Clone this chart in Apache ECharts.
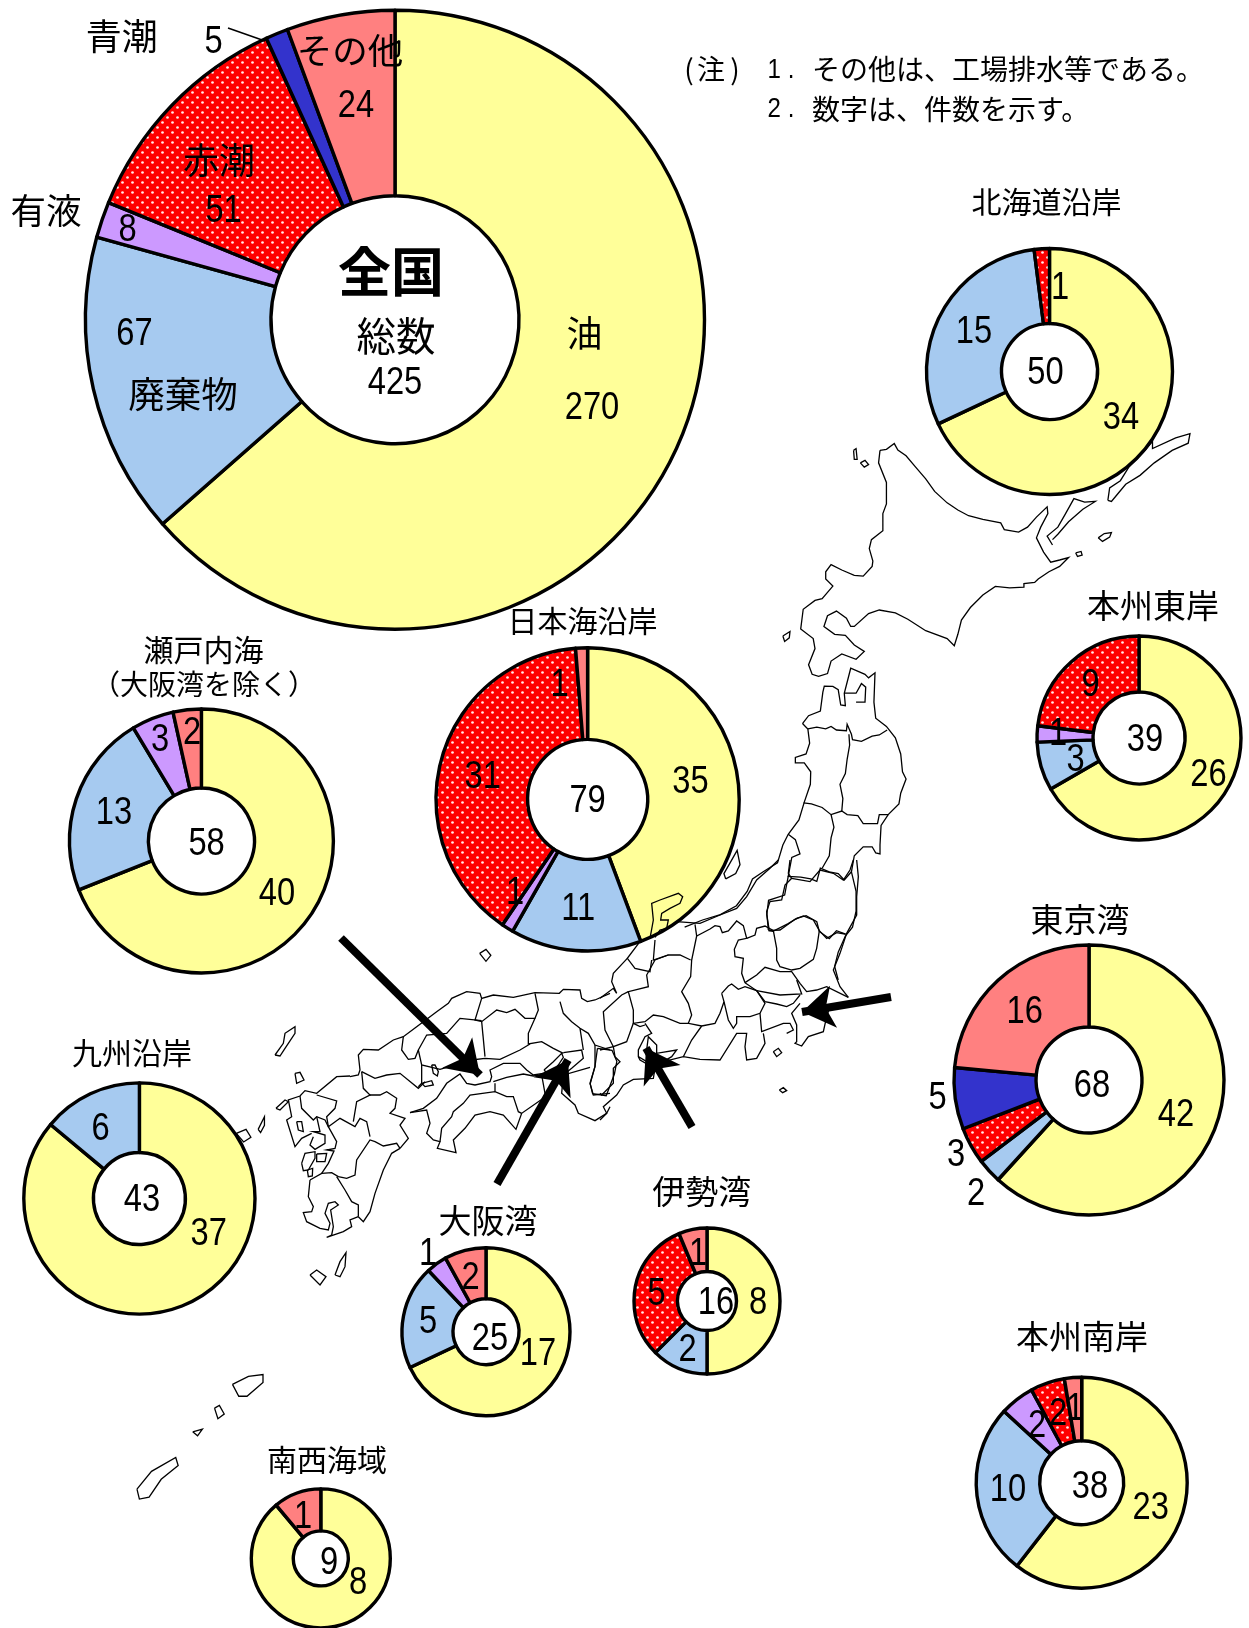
<!DOCTYPE html>
<html>
<head>
<meta charset="utf-8">
<title>全国 海洋汚染</title>
<script src="https://cdn.jsdelivr.net/npm/echarts@6/dist/echarts.min.js"></script>
<style>
html, body { margin: 0; padding: 0; background: #fff; }
#chart { width: 1249px; height: 1628px; }
</style>
</head>
<body>
<div id="chart"></div>
<script>
// slice order follows the legend of the big donut
var categories = ['油', '廃棄物', '有液', '赤潮', '青潮', 'その他'];
var zenkoku  = [270, 67, 8, 51, 5, 24];
var hokkaido = [34, 15, 0, 1, 0, 0];
var tohoku   = [26, 3, 1, 9, 0, 0];
var nihonkai = [35, 11, 1, 31, 0, 1];
var setonai  = [40, 13, 3, 0, 0, 2];
var tokyo    = [42, 2, 0, 3, 5, 16];
var kyushu   = [37, 6, 0, 0, 0, 0];
var osaka    = [17, 5, 1, 0, 0, 2];
var ise      = [8, 2, 0, 5, 0, 1];
var nangan   = [23, 10, 2, 2, 0, 1];
var nansei   = [8, 0, 0, 0, 0, 1];

var sliceColors = ['#FFFF99', '#A6CAF0', '#CC99FF', 'dots', '#3333CC', '#FF8080'];

// donut placement: centre x, centre y, hole radius, outer radius
var donuts = [
  { name: '全国', values: zenkoku, c: [395, 319.7], r: [124, 309.5],
    num: [[592, 407], [134.5, 332.6], [127.6, 228.6], [223.6, 209.4], [213.5, 40.8], [356, 105]], total: [395, 381.6] },
  { name: '北海道沿岸', values: hokkaido, c: [1049.5, 371.5], r: [48, 123], t: [1046.5, 201.4, 30],
    num: [[1121, 417], [974, 331], null, [1060, 286.5]], total: [1045.5, 372] },
  { name: '本州東岸', values: tohoku, c: [1139, 738], r: [46, 102], t: [1153, 605, 33],
    num: [[1208.5, 773.5], [1075.7, 758.6], [1058, 732.5], [1090.7, 683.6]], total: [1145, 739] },
  { name: '日本海沿岸', values: nihonkai, c: [587.6, 799.4], r: [60, 151.6], t: [582.5, 621, 30],
    num: [[690.4, 780.7], [578.3, 907.4], [515, 892], [482.8, 775.5], null, [559.6, 684]], total: [587.6, 799.4] },
  { name: '瀬戸内海', values: setonai, c: [201.4, 841], r: [53, 132], t: [203.5, 650, 30],
    num: [[277, 893], [114, 812], [160, 739], null, null, [192, 732]], total: [206.6, 843] },
  { name: '東京湾', values: tokyo, c: [1089, 1080], r: [53, 135], t: [1080, 919, 33],
    num: [[1176, 1114], [976, 1193], null, [956, 1153.4], [937.5, 1096.4], [1024.7, 1011]], total: [1092, 1085] },
  { name: '九州沿岸', values: kyushu, c: [139.4, 1198.5], r: [46, 115.6], t: [132, 1052.7, 30],
    num: [[208.7, 1232.4], [100.7, 1127.5]], total: [142, 1199] },
  { name: '大阪湾', values: osaka, c: [486, 1331.7], r: [33, 84], t: [488, 1220.5, 33],
    num: [[538, 1353], [428, 1321], [428, 1253], null, null, [470.7, 1276.7]], total: [490, 1337.7] },
  { name: '伊勢湾', values: ise, c: [707, 1301], r: [29.5, 73], t: [701.7, 1191.7, 33],
    num: [[758, 1301.7], [687.7, 1349], null, [656.7, 1292.7], null, [698, 1253]], total: [716, 1301.7] },
  { name: '本州南岸', values: nangan, c: [1081.7, 1482.7], r: [42, 105.5], t: [1082, 1336, 33],
    num: [[1150.7, 1506.7], [1008, 1489], [1037, 1425], [1058, 1413], null, [1075, 1408]], total: [1090, 1485.7] },
  { name: '南西海域', values: nansei, c: [320.8, 1558.4], r: [27.5, 69.5], t: [327, 1459.7, 30],
    num: [[358, 1582], null, null, null, null, [303, 1515.8]], total: [329, 1561.4] }
];

// name labels of the big donut: x, y, size
var catLabelPos = [[584.5, 333.5, 36], [183, 394, 36.5], [46, 211, 35.5], [219, 160, 36], [121.7, 36, 36], [350, 51, 35.5]];

var arrows = [
  [[341, 938], [480, 1075]],
  [[497, 1184], [568, 1060]],
  [[692, 1127], [646, 1048]],
  [[891, 997], [802, 1012]]
];

// coast and prefecture lines, traced in crops of the picture (ox, oy = crop origin, sx, sy = crop scale)
var mapFrames = [
  { ox: 640, oy: 420, sx: 2.8, sy: 2.8, paths: [
    [672,85,690,82,712,66,722,84,745,100,770,130,800,165,825,200,860,232,890,252,920,268,960,278,1010,288,1020,307,1060,314,1085,300,1110,272,1140,243,1142,262,1122,300,1110,330,1130,370,1150,398,1175,392,1200,385,1175,410,1145,425,1115,445,1105,455,1075,458,1075,468,1035,470,995,466,960,490,925,525,900,560,890,600,880,632,860,612,800,590,750,558,715,540,670,532,640,542,600,578,590,578,578,555,550,535,525,548,515,578,545,600,575,603,600,630,628,648,605,670,565,655,535,675,525,710,500,718,482,712,472,685,490,640,485,612,450,585,457,530,490,505,510,500,540,465,520,445,520,425,535,405,565,420,600,435,625,437,650,410,652,395,642,360,648,335,680,310,680,262,690,235,690,175,668,120,672,85],
    [1155,350,1140,325,1170,300,1190,265,1215,220,1245,230,1275,228,1240,250,1200,285,1170,320,1155,335],
    [1310,225,1315,190,1345,170,1370,130,1410,90,1435,60,1435,80,1500,50,1540,38,1535,65,1490,85,1440,120,1400,155,1360,180,1335,210,1320,228,1310,225],
    [1283,330,1300,318,1320,315,1315,328,1295,340,1283,330],
    [1220,372,1235,368,1238,378,1225,382,1220,372],
    [598,85,605,80,608,110,600,110,598,85],
    [617,120,630,113,640,125,628,132,617,120],
    [400,605,420,592,418,610,405,620,400,605],
    [455,850,472,828,505,815,512,762,516,745,540,746,555,755,562,798,575,800,572,765,590,695,630,712,640,722,658,708,655,790,660,835,690,858,715,890,730,935,735,985,745,1005,730,1045,725,1075,695,1105,675,1135,672,1190,672,1215,660,1212,650,1195,625,1195,600,1220,592,1265,605,1320,605,1375,595,1420,575,1445,555,1490,545,1530,555,1568],
    [572,765,605,765,620,738,632,748,630,790,605,790],
    [455,850,470,865,475,905,465,935,435,945,435,960,460,960,478,985,477,1020,460,1070,445,1120,415,1160,400,1190,385,1240,345,1265,315,1285,300,1320,270,1360,225,1385,175,1400,125,1420],
    [470,865,495,860,520,865,535,858,550,868,578,870,580,852,592,880,595,895,620,900,650,885,670,882,692,868],
    [585,880,587,910,580,950,575,990,560,1020,568,1060,565,1095],
    [458,1072,480,1075,510,1085,535,1105,565,1095,580,1105,610,1108,625,1130,665,1130,670,1105,695,1105],
    [535,1105,543,1140,535,1170,530,1220,510,1255],
    [415,1160,435,1175,448,1215,425,1225,415,1278,450,1280,478,1285,495,1292,505,1255,530,1265,555,1270,572,1288,592,1265],
    [415,1278,405,1330,360,1345,355,1385,362,1430,372,1432,415,1410,440,1395,465,1388,495,1405,502,1432,530,1452,550,1430,578,1440],
    [240,1285,235,1270,255,1235,272,1205,280,1245,268,1270,240,1285]
  ] },
  { ox: 600, oy: 860, sx: 3, sy: 3, paths: [
    [150,235,160,180,155,130,180,120,235,100,248,110,240,130,210,145,185,160,182,180,205,180,200,205,180,210,165,232],
    [230,185,300,190,360,165,410,145,440,110,470,60,510,25,535,0],
    [285,193,290,228,330,207,345,197,360,200,367,218,385,213,410,183,430,197,440,235,415,240,403,268,405,290,430,295,425,340,435,368],
    [440,235,465,225,470,205,495,198,520,212],
    [505,212,540,210,585,178,610,168,640,180,658,212,680,235,710,218,735,222],
    [505,210,500,155,510,125,545,120,555,75,575,55,565,40,570,0],
    [575,55,630,65,660,30,700,40,730,60,750,30,760,0],
    [770,0,775,50,770,110,770,165,740,220,720,280,700,330,720,380,745,412],
    [520,212,530,265,530,300,540,320,575,330,600,325,640,298,650,265,658,212],
    [435,368,470,345,495,322,540,335,575,335,600,370,620,395,650,390,680,380,745,412],
    [435,368,470,392,540,405,605,402,590,360],
    [470,392,495,425,530,432,560,440,580,430,600,405],
    [365,400,385,378,395,372,415,388,435,380,470,392,495,430,480,460,450,470,410,470,410,490,400,505,385,480,372,425,365,400],
    [480,460,485,515,550,490,570,490,580,510,560,520],
    [600,430,575,460,590,495,590,545,585,550,605,558,625,530,670,515,680,470,690,440],
    [490,520,495,550,470,595,440,600,435,560,440,520,410,520,360,600,300,598,250,590,190,605],
    [305,498,275,540,250,590],
    [290,228,275,300,272,350,245,395,265,430,275,465,265,490,305,498,345,490,360,460,372,425],
    [205,285,165,300,140,345,145,380,85,395,100,450,100,490,135,485,160,465,190,470,240,490,265,490],
    [165,240,160,300,205,285,240,285,272,300],
    [122,242,82,295,105,325,150,335,155,300],
    [82,295,40,340,35,365,50,400,40,385,0,415],
    [85,395,65,405,10,455,15,510,40,560,80,545,100,490],
    [135,490,155,520,135,530,115,570,115,590,140,605,175,600,140,570,145,530,170,555,170,580,230,570,215,590,190,605],
    [100,490,120,500,135,495],
    [115,590,120,600,165,625,160,655,100,658,70,675,50,705,10,740,20,760,0,780],
    [40,560,0,570],
    [40,560,45,590,60,605,40,625,40,670,5,705,0,700],
    [520,575,535,565,545,578,530,590,520,575],
    [538,690,550,683,560,692,548,698,538,690]
  ] },
  { ox: 350, oy: 970, sx: 3, sy: 3, paths: [
    [780,70,735,90,712,95,695,85,690,60,640,58,628,70,555,68,490,82,430,75,395,85,390,70,350,65,305,85,295,100,260,125,200,170,160,200,130,210,85,240,40,238,25,255,30,300,25,315,0,320],
    [160,200,155,240,175,268,195,265,205,240,230,195,290,190,330,145,395,152],
    [395,85,375,150,395,155,440,120,470,128,495,118,525,145,555,145,565,120,555,70],
    [395,155,405,260],
    [555,145,535,190,535,222,575,215,610,235,640,250],
    [205,240,215,285,270,298,340,278,365,270,405,265,450,268,510,240,540,222],
    [215,285,215,340,205,350],
    [245,285,255,285,265,305,262,318,250,310,245,285],
    [215,340,245,332,250,345,225,350,215,340],
    [180,428,220,415,260,385,290,340,330,312,350,340,375,345,420,335,425,320,420,300,460,280,510,280,530,300,550,315,580,310],
    [430,335,470,322,520,312,550,318,575,315,585,370,580,385],
    [180,428,230,420,240,460,230,490,250,510,270,515,262,535,318,548,310,510,345,475,375,435,420,425,460,435,498,478,515,430,580,385],
    [270,515,275,475,305,440,310,425,340,400,360,375,435,365,470,380,490,380,505,425,515,430],
    [435,340,435,365],
    [582,300,610,275,635,250,640,262,625,285,600,318,582,300],
    [640,248,695,240,700,265,665,295,640,315,720,292],
    [630,95,640,130,665,155,690,175,715,190,735,225,780,240],
    [690,175,700,240],
    [735,225,735,290,720,340,730,375,780,370],
    [640,315,635,370,675,405,685,430,735,452,770,430,780,410]
  ] },
  { ox: 260, oy: 1020, sx: 3, sy: 3, paths: [
    [270,168,230,170,170,220,135,212,120,228,85,240,95,290,80,300,105,380,125,355,155,340],
    [170,225,230,243,225,265,200,290,205,320],
    [120,228,125,265,160,300,170,290,195,300,205,320,240,295,285,320,300,295,320,305,330,350],
    [170,290,180,335,160,335,195,345,195,370,165,388,150,375,160,350],
    [110,305,125,305,130,335,115,330,110,305],
    [205,320,230,365,225,385,200,390,222,393,205,430,185,460],
    [125,430,135,400,165,395,165,415,145,450,130,452,125,430],
    [170,402,200,400,195,425,170,425,170,402],
    [142,450,158,445,157,468,145,470,142,450],
    [150,480,185,460,215,458,235,470,260,475,285,465,290,420,330,360,345,365,370,378,410,370,420,385],
    [230,470,255,510,275,545,295,555,295,590],
    [420,385,395,400,370,450,345,520,330,575,310,605,295,590],
    [305,155,310,205,330,225,290,245,280,305],
    [330,225,360,225,380,215,410,235,405,265,390,280,435,295,420,315,445,355,420,385],
    [305,155,345,175,380,165,420,160,475,205,495,185],
    [150,480,145,530,160,560,155,575,130,578,140,605,180,625,205,630,210,610,195,580,205,550,225,545,235,555,212,570,220,620,215,645,200,652,250,635,275,620,270,600,295,590],
    [105,160,120,157,132,180,110,190,105,160],
    [45,105,70,70,75,40,105,20,105,40,75,85,60,108,45,105],
    [48,265,75,240,85,245,60,270,48,265],
    [225,765,240,725,258,698,255,740,240,770,225,765],
    [150,765,170,750,198,770,180,795,150,765]
  ] },
  { ox: 120, oy: 900, sx: 2.063, sy: 2.529, paths: [
    [742,135,755,125,765,140,755,155,742,135],
    [240,590,260,580,270,600,255,612,240,590],
    [285,580,298,548,298,570,290,588,285,580],
    [985,375,1015,380,1025,408,1020,440,1003,495,975,490,970,465,980,420,985,375],
    [232,1225,265,1205,295,1200,295,1220,262,1255,245,1255,232,1225],
    [195,1285,205,1278,215,1300,202,1312,195,1285],
    [150,1345,170,1338,160,1355,150,1345],
    [35,1490,65,1445,115,1410,120,1430,85,1465,60,1510,40,1515,35,1490]
  ] }
];

var CJK = '"Noto Sans CJK JP", sans-serif';
var NUM = '"Liberation Sans", sans-serif';

function dotPattern() {
  var cv = document.createElement('canvas');
  cv.width = 10;
  cv.height = 10;
  var ctx = cv.getContext('2d');
  ctx.fillStyle = '#FF0000';
  ctx.fillRect(0, 0, 10, 10);
  ctx.fillStyle = '#FFE8E8';
  [[2.5, 2.5], [7.5, 7.5]].forEach(function (p) {
    ctx.beginPath();
    ctx.arc(p[0], p[1], 1.35, 0, Math.PI * 2);
    ctx.fill();
  });
  return cv;
}
var dots = { image: dotPattern(), repeat: 'repeat' };

function mapLines() {
  var out = [];
  mapFrames.forEach(function (f) {
    f.paths.forEach(function (p) {
      var coords = [];
      for (var i = 0; i < p.length; i += 2) {
        coords.push([f.ox + p[i] / f.sx, f.oy + p[i + 1] / f.sy]);
      }
      out.push({ coords: coords });
    });
  });
  return out;
}

function txt(str, pos, size, weight) {
  return {
    type: 'text', z: 100, silent: true,
    style: {
      text: str, x: pos[0], y: pos[1], align: 'center', verticalAlign: 'middle',
      fill: '#000', font: (weight || 'normal') + ' ' + size + 'px ' + CJK
    }
  };
}

function leftTxt(str, x, y, size) {
  return {
    type: 'text', z: 100, silent: true,
    style: { text: str, x: x, y: y, verticalAlign: 'middle', fill: '#000', font: size + 'px ' + CJK }
  };
}

// digits in the picture are a condensed Arial, so squeeze them sideways
function numTxt(str, pos, size) {
  return {
    type: 'text', z: 100, silent: true, x: pos[0], y: pos[1] + 2, scaleX: 0.86,
    style: {
      text: str, x: 0, y: 0, align: 'center', verticalAlign: 'middle',
      fill: '#000', font: size + 'px ' + NUM
    }
  };
}

var series = [];
var texts = [];

donuts.forEach(function (d) {
  var data = [];
  var total = 0;
  d.values.forEach(function (v, i) {
    total += v;
    if (v > 0) {
      data.push({
        name: categories[i], value: v,
        itemStyle: { color: sliceColors[i] === 'dots' ? dots : sliceColors[i] }
      });
      if (d.num[i]) texts.push(numTxt(String(v), d.num[i], 38));
    }
  });
  series.push({
    type: 'pie', center: d.c, radius: d.r, startAngle: 90, clockwise: true,
    silent: true, animation: false, z: 2, label: { show: false }, labelLine: { show: false },
    itemStyle: { borderColor: '#000', borderWidth: 3.4 },
    data: data
  });
  texts.push(numTxt(String(total), d.total, 38));
  if (d.t) texts.push(txt(d.name, d.t, d.t[2]));
});

categories.forEach(function (c, i) {
  texts.push(txt(c, catLabelPos[i], catLabelPos[i][2]));
});
texts.push(txt('全国', [391, 271.4], 53, 'bold'));
texts.push(txt('総数', [396, 335.5], 39.5));
texts.push(txt('（大阪湾を除く）', [204, 684], 28));
texts.push(txt('(', [689, 69], 28));
texts.push(txt('注', [711, 69], 28));
texts.push(txt(')', [735, 69], 28));
texts.push(numTxt('1 .', [781, 68], 28));
texts.push(numTxt('2 .', [781, 107], 28));
texts.push(leftTxt('その他は、工場排水等である。', 812, 69, 28));
texts.push(leftTxt('数字は、件数を示す。', 812, 109, 28));

// map on top of the donuts, the outline shows through the Japan Sea one
series.push({
  type: 'lines', coordinateSystem: 'cartesian2d', polyline: true, silent: true, animation: false, z: 3,
  lineStyle: { color: '#000', width: 1.3, opacity: 1 },
  data: mapLines()
});
series.push({
  type: 'lines', coordinateSystem: 'cartesian2d', silent: true, animation: false, z: 4,
  lineStyle: { color: '#000', width: 1.5, opacity: 1 },
  data: [{ coords: [[228, 28], [265, 41]] }]
});
series.push({
  type: 'lines', coordinateSystem: 'cartesian2d', silent: true, animation: false, z: 4,
  symbol: ['none', 'arrow'], symbolSize: [15, 32],
  lineStyle: { color: '#000', width: 8, opacity: 1 },
  data: arrows.map(function (a) { return { coords: a }; })
});

var chart = echarts.init(document.getElementById('chart'));
chart.setOption({
  animation: false,
  backgroundColor: '#fff',
  grid: { left: 0, right: 0, top: 0, bottom: 0 },
  xAxis: { type: 'value', min: 0, max: 1249, show: false },
  yAxis: { type: 'value', min: 0, max: 1628, inverse: true, show: false },
  graphic: { elements: texts },
  series: series
});
</script>
</body>
</html>
